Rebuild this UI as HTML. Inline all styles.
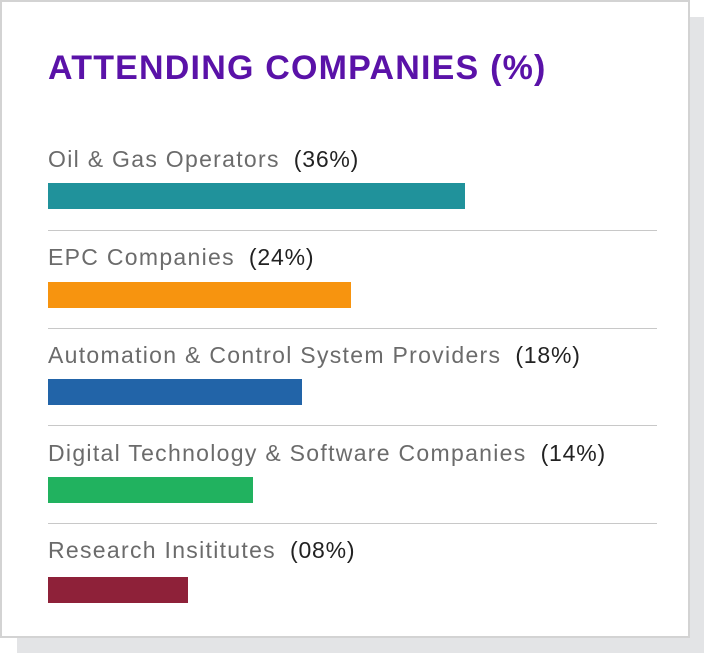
<!DOCTYPE html>
<html><head><style>
body{margin:0;width:704px;height:653px;background:#fff;position:relative;overflow:hidden;font-family:"Liberation Sans",sans-serif}
.sh{position:absolute;left:17px;top:17px;width:687px;height:636px;background:#e3e4e6}
.card{position:absolute;left:0;top:0;width:686px;height:634px;background:#fff;border:2px solid #d3d3d3}
h1{position:absolute;left:48px;top:49px;margin:0;font-size:34px;font-weight:bold;color:#5a12a8;letter-spacing:1.2px;white-space:nowrap}
.lab{position:absolute;left:48px;font-size:23px;letter-spacing:1.3px;color:#6b6b6b;white-space:nowrap}
.lab b{font-weight:normal;color:#222;margin-left:14px;letter-spacing:0.8px}
.bar{position:absolute;left:48px;height:26px}
.sep{position:absolute;left:48px;width:609px;height:1px;background:#c8c8c8}
</style></head><body>
<div class="sh"></div>
<div class="card"></div>
<h1>ATTENDING COMPANIES (%)</h1>
<div class="lab" style="top:146px">Oil &amp; Gas Operators<b>(36%)</b></div>
<div class="bar" style="top:183px;width:417px;background:#20929b"></div>
<div class="sep" style="top:230px"></div>
<div class="lab" style="top:244px">EPC Companies<b>(24%)</b></div>
<div class="bar" style="top:282px;width:303px;background:#f7940f"></div>
<div class="sep" style="top:328px"></div>
<div class="lab" style="top:342px">Automation &amp; Control System Providers<b>(18%)</b></div>
<div class="bar" style="top:379px;width:254px;background:#2264a8"></div>
<div class="sep" style="top:425px"></div>
<div class="lab" style="top:440px">Digital Technology &amp; Software Companies<b>(14%)</b></div>
<div class="bar" style="top:477px;width:205px;background:#21b25f"></div>
<div class="sep" style="top:523px"></div>
<div class="lab" style="top:537px">Research Insititutes<b>(08%)</b></div>
<div class="bar" style="top:577px;width:140px;background:#8e2139"></div>
</body></html>
